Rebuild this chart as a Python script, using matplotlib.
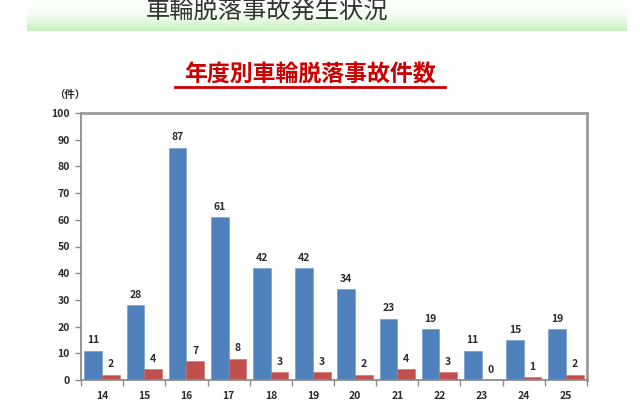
import matplotlib
matplotlib.use("Agg")
import matplotlib.pyplot as plt
import numpy as np
from matplotlib.colors import LinearSegmentedColormap

plt.rcParams['font.family'] = ['Noto Sans CJK JP', 'DejaVu Sans']

years = ["14", "15", "16", "17", "18", "19", "20", "21", "22", "23", "24", "25"]
large_vehicles = [11, 28, 87, 61, 42, 42, 34, 23, 19, 11, 15, 19]
other_vehicles = [2, 4, 7, 8, 3, 3, 2, 4, 3, 0, 1, 2]
yticks = [0, 10, 20, 30, 40, 50, 60, 70, 80, 90, 100]

title = "車輪脱落事故発生状況"
subtitle = "年度別車輪脱落事故件数"
unit = "（件）"

BLUE = "#4f81bd"
RED = "#c0504d"
AXC = "#8c8c8c"
TXT = "#2b2b2b"

fig = plt.figure(figsize=(6.4, 4.0), dpi=100)

# banner with gradient
bax = fig.add_axes([27/640, 1-31/400, 600/640, 31/400])
grad = np.linspace(0, 1, 64).reshape(-1, 1)
cmap = LinearSegmentedColormap.from_list("g", ["#ffffff", "#f4fdf2", "#c6f2bd"])
bax.imshow(grad, aspect='auto', cmap=cmap, extent=[0, 1, 0, 1], origin='upper')
bax.set_axis_off()
fig.text(267/640, 1-12/400, title, ha='center', va='center', fontsize=17.5,
         color='#333333')

# subtitle
fig.text(310/640, 1-75/400, subtitle, ha='center', va='center', fontsize=16.5,
         color='#cc0000', fontweight='bold')
fig.add_artist(plt.Line2D([175/640, 445/640], [1-87/400, 1-87/400],
                          color='#cc0000', lw=2))

ax = fig.add_axes([81/640, 1-380/400, (587-81)/640, (380-113)/400])
x = np.arange(len(years))
w = 0.42
ax.bar(x - w/2, large_vehicles, w, color=BLUE, edgecolor='#6b97cc', lw=0.4)
ax.bar(x + w/2, other_vehicles, w, color=RED, edgecolor='#cc6a67', lw=0.4)
for xi, v in zip(x, large_vehicles):
    ax.text(xi - w/2, v + 2.0, str(v), ha='center', va='bottom', fontsize=7.5,
            fontweight='bold', color=TXT)
for xi, v in zip(x, other_vehicles):
    ax.text(xi + w/2, v + 2.0, str(v), ha='center', va='bottom', fontsize=7.5,
            fontweight='bold', color=TXT)

ax.set_xlim(-0.5, len(years) - 0.5)
ax.set_ylim(0, 100)
ax.set_yticks(yticks)
ax.set_yticklabels([str(v) for v in yticks], fontsize=7.5, fontweight='bold',
                   color=TXT)
ax.set_xticks(x)
ax.set_xticklabels(years, fontsize=7.5, fontweight='bold', color=TXT)
ax.set_xticks(np.arange(len(years) + 1) - 0.5, minor=True)
ax.tick_params(axis='x', which='major', length=0, pad=8)
ax.tick_params(axis='x', which='minor', length=4, color=AXC, width=1)
ax.tick_params(axis='y', length=4, color=AXC, width=1, pad=4)
for s in ax.spines.values():
    s.set_color(AXC)
    s.set_linewidth(1.3)
ax.spines['top'].set_color('#9a9a9a')
ax.spines['right'].set_color('#9a9a9a')
ax.spines['right'].set_linewidth(2)
ax.spines['top'].set_linewidth(2)

fig.text(70/640, 1-95/400, unit, ha='center', va='center', fontsize=7.5,
         fontweight='bold', color=TXT)

fig.savefig("out.png", dpi=100)
